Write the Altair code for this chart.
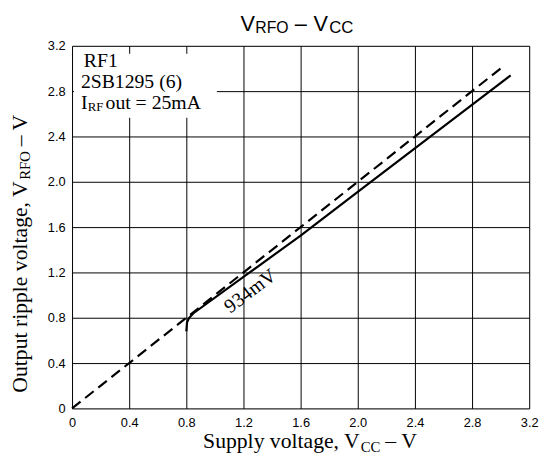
import altair as alt
import pandas as pd

# ---- data ----
tick_values = [0.0, 0.4, 0.8, 1.2, 1.6, 2.0, 2.4, 2.8, 3.2]

dashed_vcc = [0.0, 3.02]
dashed_vrfo = [0.0, 3.02]

solid_vcc = [0.80, 0.805, 0.82, 0.85, 1.2, 1.6, 2.0, 3.07]
solid_vrfo = [0.68, 0.76, 0.80, 0.84, 1.16, 1.525, 1.91, 2.94]

W, H = 464, 368

dashed_df = pd.DataFrame({"vcc": dashed_vcc, "vrfo": dashed_vrfo})
solid_df = pd.DataFrame({"vcc": solid_vcc, "vrfo": solid_vrfo})

xscale = alt.Scale(domain=[0, 3.2], nice=False, zero=False)
yscale = alt.Scale(domain=[0, 3.2], nice=False, zero=False)

label_expr = "datum.value == 0 ? '0' : format(datum.value, '.1f')"

xaxis = alt.Axis(values=tick_values, labelExpr=label_expr, title=None, grid=True,
                 gridColor="black", gridWidth=1, gridOpacity=1, ticks=False, tickSize=0,
                 domain=False, labelPadding=8, labelFont="Liberation Sans", labelFontSize=13,
                 labelColor="black", labelFlush=False)
yaxis = alt.Axis(values=tick_values, labelExpr=label_expr, title=None, grid=True,
                 gridColor="black", gridWidth=1, gridOpacity=1, ticks=False, tickSize=0,
                 domain=False, labelPadding=7, labelFont="Liberation Sans", labelFontSize=13,
                 labelColor="black", labelFlush=False)

dashed = alt.Chart(dashed_df).mark_line(color="black", strokeWidth=2.2, strokeDash=[11, 6]).encode(
    x=alt.X("vcc:Q", scale=xscale, axis=xaxis),
    y=alt.Y("vrfo:Q", scale=yscale, axis=yaxis),
)
solid = alt.Chart(solid_df).mark_line(color="black", strokeWidth=2.2).encode(
    x=alt.X("vcc:Q", scale=xscale),
    y=alt.Y("vrfo:Q", scale=yscale),
    order=alt.Order("vcc:Q"),
)

one = pd.DataFrame({"a": [0]})


def txt(s, x, y, size, font="Liberation Serif", angle=0, align="left", baseline="alphabetic"):
    return alt.Chart(one).mark_text(
        text=s, font=font, fontSize=size, angle=angle, align=align, baseline=baseline,
        color="black",
    ).encode(x=alt.value(x), y=alt.value(y))


mask = alt.Chart(one).mark_rect(color="white").encode(
    x=alt.value(2), x2=alt.value(147), y=alt.value(8), y2=alt.value(73)
)

texts = [
    # title
    txt("V", 171, -15, 22, font="Liberation Sans"),
    txt("RFO", 186, -13.5, 16, font="Liberation Sans"),
    txt("\u2013", 226, -15, 22, font="Liberation Sans"),
    txt("V", 245, -15, 22, font="Liberation Sans"),
    txt("CC", 261, -13.5, 17, font="Liberation Sans"),
    # annotation box
    txt("RF1", 12, 21, 20),
    txt("2SB1295 (6)", 9, 43, 20),
    txt("I", 9, 64, 20),
    txt("RF", 16, 66, 13),
    txt("out = 25mA", 34, 64, 20),
    # line label
    txt("934mV", 181, 249, 20, angle=323, align="center", baseline="middle"),
    # x title
    txt("Supply voltage, V", 133, 408, 22),
    txt("CC", 293, 412, 15),
    txt("\u2013 V", 318, 408, 22),
    # y title
    txt("Output ripple voltage, V", -46, 352, 22, angle=270),
    txt("RFO", -43, 136, 15, angle=270),
    txt("\u2013 V", -46, 102, 22, angle=270),
]

chart = alt.layer(dashed, mask, solid, *texts).properties(
    width=W, height=H,
    autosize=alt.AutoSizeParams(type="none"),
    padding={"left": 65, "top": 35, "right": 14, "bottom": 50},
).configure_view(stroke="black", strokeWidth=1.5, fill="white").configure(background="white")

chart.save("out.html", embed_options={"renderer": "svg", "actions": False})
